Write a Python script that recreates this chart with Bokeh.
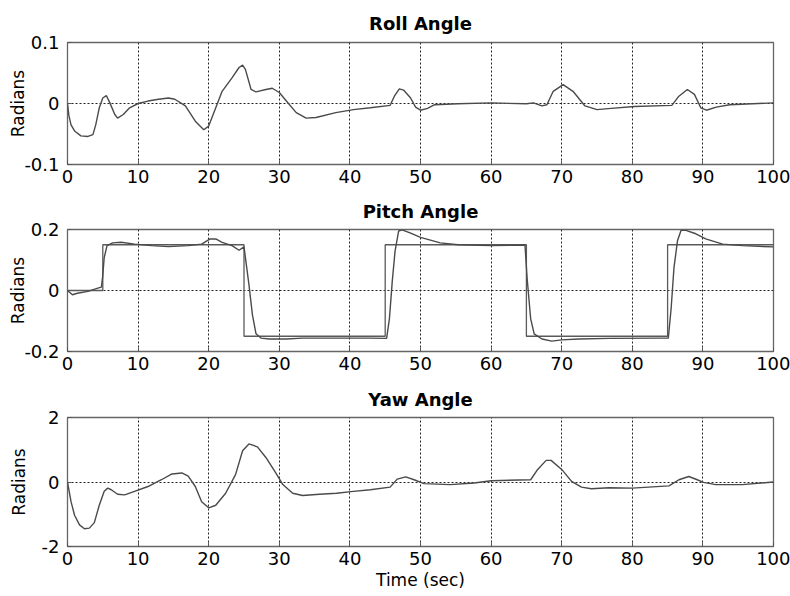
from bokeh.plotting import figure
from bokeh.layouts import column
from bokeh.models import Range1d, FixedTicker
from bokeh.embed import file_html
from bokeh.resources import INLINE

# ---------------- data ----------------
x_ticks = [0, 10, 20, 30, 40, 50, 60, 70, 80, 90, 100]

roll_t = [0, 0.2, 0.5, 1.0, 1.9, 2.9, 3.6, 4.0, 4.5, 5.0,
          5.5, 6.0, 6.7, 7.1, 7.9, 8.8, 10, 11.4, 12.9, 14.3,
          15.2, 16.7, 18.1, 19.3, 20, 21, 21.9, 23.3, 24.3, 24.8,
          25.2, 26, 26.7, 28.1, 29, 30, 31, 32.4, 33.8, 35.2,
          38, 40.5, 42.9, 45.7, 46.3, 47.0, 47.6, 48.6, 49.3, 50,
          51, 52, 55.3, 60, 65, 66, 67.2, 67.9, 68.8, 70.2,
          71.6, 73.3, 75, 77, 80.3, 85.6, 86.6, 87.8, 88.8, 89.7,
          90.5, 91.9, 93.8, 100]
roll_v = [0, -0.02, -0.035, -0.045, -0.053, -0.054, -0.051, -0.035, -0.007, 0.009,
          0.013, 0.001, -0.018, -0.024, -0.018, -0.007, 0.0, 0.004, 0.007, 0.009,
          0.007, -0.004, -0.029, -0.043, -0.037, -0.007, 0.020, 0.042, 0.059, 0.063,
          0.056, 0.023, 0.019, 0.023, 0.025, 0.018, 0.004, -0.015, -0.024, -0.023,
          -0.015, -0.010, -0.007, -0.003, 0.012, 0.024, 0.022, 0.009, -0.006, -0.011,
          -0.008, -0.002, -0.0005, 0.001, -0.0005, 0.001, -0.004, -0.002, 0.020, 0.031,
          0.020, -0.004, -0.010, -0.008, -0.005, -0.003, 0.012, 0.023, 0.015, -0.007,
          -0.011, -0.006, -0.002, 0.001]
roll_ticks = [-0.1, 0, 0.1]
roll_tick_labels = ["-0.1", "0", "0.1"]

pitch_t = [0, 0.7, 1.4, 2.9, 4.3, 4.8, 5.0, 5.2, 5.6, 6.4,
           7.6, 9.5, 11.9, 14.3, 17.1, 19.0, 20.2, 21.0, 21.9, 23.3,
           24.3, 25.0, 25.2, 25.7, 26.2, 26.7, 27.4, 28.6, 31, 33.3,
           38, 42.9, 45.2, 45.6, 46.0, 46.4, 46.9, 47.4, 48.6, 50,
           52.8, 55.3, 60, 64.8, 65.1, 65.6, 66.1, 67.2, 68.6, 70,
           72.4, 76.7, 83.8, 85.1, 85.5, 85.9, 86.4, 86.9, 87.6, 89,
           90.4, 92.8, 95.6, 100]
pitch_v = [0, -0.014, -0.009, -0.003, 0.008, 0.011, 0.05, 0.108, 0.147, 0.156,
           0.158, 0.152, 0.147, 0.144, 0.147, 0.152, 0.169, 0.169, 0.158, 0.147,
           0.132, 0.143, 0.108, 0.019, -0.081, -0.142, -0.156, -0.159, -0.159, -0.156,
           -0.156, -0.156, -0.157, -0.092, 0.03, 0.13, 0.195, 0.199, 0.188, 0.174,
           0.156, 0.150, 0.147, 0.149, 0.041, -0.092, -0.142, -0.159, -0.166, -0.162,
           -0.159, -0.157, -0.156, -0.156, -0.059, 0.074, 0.163, 0.197, 0.197, 0.186,
           0.169, 0.152, 0.147, 0.143]
pitch_ref_t = [0, 5, 25, 45, 65, 85, 100]
pitch_ref_v = [0, 0.15, -0.15, 0.15, -0.15, 0.15, 0.15]
pitch_ticks = [-0.2, 0, 0.2]
pitch_tick_labels = ["-0.2", "0", "0.2"]

yaw_t = [0, 0.5, 1.0, 1.7, 2.4, 3.1, 3.8, 4.5, 5.2, 5.7,
         6.2, 7.1, 8.1, 9.5, 11.4, 13.3, 14.8, 16.2, 17.1, 18.1,
         19.0, 20.0, 21.0, 22.4, 23.8, 24.8, 25.7, 26.9, 28.1, 29.5,
         30.5, 31.9, 33.3, 35.7, 38.1, 40.5, 42.9, 45.7, 46.7, 47.9,
         49.1, 50.5, 54.2, 57.6, 60, 65.6, 66.6, 67.8, 68.5, 70,
         71.4, 72.8, 74.2, 76.7, 80, 85.2, 86.6, 88, 89.2, 90.1,
         91.8, 95.6, 100]
yaw_v = [0, -0.61, -1.03, -1.33, -1.45, -1.43, -1.26, -0.72, -0.29, -0.19,
         -0.24, -0.38, -0.40, -0.29, -0.14, 0.07, 0.25, 0.28, 0.18, -0.14,
         -0.61, -0.80, -0.72, -0.35, 0.23, 0.97, 1.18, 1.09, 0.76, 0.28,
         -0.08, -0.35, -0.42, -0.38, -0.35, -0.29, -0.24, -0.16, 0.09, 0.16,
         0.07, -0.05, -0.08, -0.03, 0.04, 0.07, 0.39, 0.67, 0.67, 0.39,
         0.02, -0.16, -0.21, -0.18, -0.19, -0.12, 0.07, 0.17, 0.07, -0.01,
         -0.08, -0.08, 0.0]
yaw_ticks = [-2, 0, 2]
yaw_tick_labels = ["-2", "0", "2"]

FONT = "DejaVu Sans"
LINE = "#4a4a4a"
GRID = "#222222"


def make(title, yr, yticks, ylabels, height, top, bottom, ylabel_standoff,
         title_standoff, xlabel=None):
    p = figure(width=790, height=height, output_backend="svg", toolbar_location=None,
               x_range=Range1d(0, 100), y_range=Range1d(yr[0], yr[1]),
               min_border_left=67, min_border_right=17,
               min_border_top=top, min_border_bottom=bottom, title=title)
    p.title.text_font = FONT
    p.title.text_font_style = "bold"
    p.title.text_font_size = "18px"
    p.title.align = "center"
    p.title.text_color = "black"
    p.title.standoff = title_standoff

    p.xaxis.ticker = FixedTicker(ticks=x_ticks)
    p.yaxis.ticker = FixedTicker(ticks=yticks)
    p.yaxis.major_label_overrides = {t: l for t, l in zip(yticks, ylabels)}
    for ax in (p.xaxis, p.yaxis):
        ax.axis_line_color = None
        ax.major_tick_in = 4
        ax.major_tick_out = 0
        ax.major_tick_line_color = "#555555"
        ax.minor_tick_line_color = None
        ax.major_label_text_font = FONT
        ax.major_label_text_font_size = "18px"
        ax.major_label_text_color = "black"
        ax.axis_label_text_font = FONT
        ax.axis_label_text_font_size = "17px"
        ax.axis_label_text_font_style = "normal"
        ax.axis_label_text_color = "black"
    p.xaxis.major_label_standoff = 5
    p.yaxis.major_label_standoff = 8
    p.yaxis.axis_label = "Radians"
    p.yaxis.axis_label_standoff = ylabel_standoff
    if xlabel:
        p.xaxis.axis_label = xlabel
        p.xaxis.axis_label_standoff = 2

    for g in (p.xgrid, p.ygrid):
        g.grid_line_color = GRID
        g.grid_line_dash = "2 2"
        g.grid_line_width = 1
    p.outline_line_color = "#666666"
    p.outline_line_width = 1.3
    p.background_fill_color = "white"
    p.border_fill_color = "white"
    return p


p1 = make("Roll Angle", (-0.1, 0.1), roll_ticks, roll_tick_labels, 190, 42, 26, -7, 18)
p1.line(roll_t, roll_v, line_color=LINE, line_width=1.4)

p2 = make("Pitch Angle", (-0.2, 0.2), pitch_ticks, pitch_tick_labels, 188, 39, 27, -7, 16)
p2.step(pitch_ref_t, pitch_ref_v, mode="after", line_color="#5a5a5a", line_width=1.3)
p2.line(pitch_t, pitch_v, line_color=LINE, line_width=1.4)

p3 = make("Yaw Angle", (-2, 2), yaw_ticks, yaw_tick_labels, 218, 39, 50, 10, 16,
          xlabel="Time (sec)")
p3.line(yaw_t, yaw_v, line_color=LINE, line_width=1.4)

layout = column(p1, p2, p3, spacing=0)
open("out.html", "w").write(file_html(layout, INLINE))
